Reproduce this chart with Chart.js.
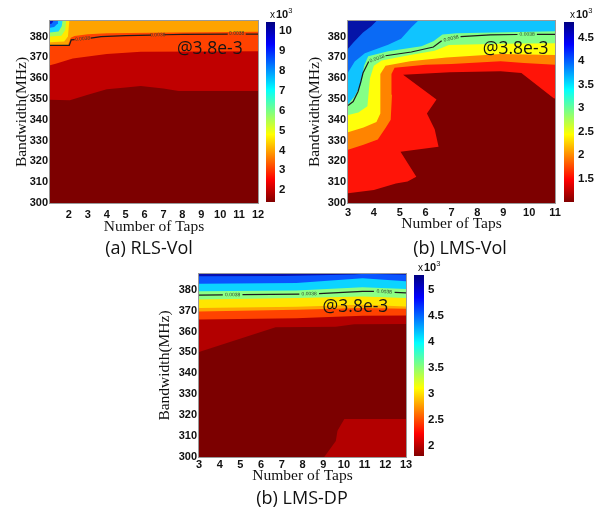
<!DOCTYPE html>
<html>
<head>
<meta charset="utf-8">
<script src="https://cdn.jsdelivr.net/npm/chart.js@4.4.1/dist/chart.umd.min.js"></script>
<style>
  html, body { margin: 0; padding: 0; background: #fff; }
  body { position: relative; width: 608px; height: 512px; overflow: hidden; }
  canvas { position: absolute; }
  .cap { position: absolute; font: 18px "Open Sans", sans-serif; color: #111; white-space: nowrap; transform: translate(-50%, -50%); }
  .exp { position: absolute; font: bold 11px "Liberation Sans", Arial, sans-serif; line-height: 11px; color: #111; white-space: nowrap; }
  .exp i { font-style: normal; font-weight: normal; font-size: 10px; margin-right: 1px; }
  .exp b { position: relative; top: -5px; font-size: 7.5px; font-weight: normal; }
</style>
</head>
<body>
<canvas id="rls" width="270" height="243" style="left:0px;top:0px"></canvas>
<canvas id="rlsBar" width="39" height="202" style="left:266px;top:11px"></canvas>
<canvas id="lmsVol" width="269" height="243" style="left:298px;top:0px"></canvas>
<canvas id="lmsVolBar" width="40" height="202" style="left:564px;top:11px"></canvas>
<canvas id="lmsDp" width="269" height="244" style="left:149px;top:253px"></canvas>
<canvas id="lmsDpBar" width="40" height="203" style="left:414px;top:264px"></canvas>

<div class="exp" style="left:270px;top:9px"><i>x</i>10<b>3</b></div>
<div class="exp" style="left:570px;top:9px"><i>x</i>10<b>3</b></div>
<div class="exp" style="left:418px;top:262px"><i>x</i>10<b>3</b></div>

<div class="cap" style="left:149px;top:247px">(a) RLS-Vol</div>
<div class="cap" style="left:460px;top:247px">(b) LMS-Vol</div>
<div class="cap" style="left:302px;top:497px">(b) LMS-DP</div>

<script>
// Bandwidth axis shared by the three maps
const Y_MIN = 300, Y_MAX = 387.5;
const bandwidthTicks = [300, 310, 320, 330, 340, 350, 360, 370, 380];
const levelText = '0.0038';
const noteText = '@3.8e-3';

// ---- (a) RLS-Vol ----
const rlsTapRange = [1, 12];
const rlsTapTicks = [2, 3, 4, 5, 6, 7, 8, 9, 10, 11, 12];
const rlsBarRange = [1.4, 10.45];
const rlsBarTicks = [2, 3, 4, 5, 6, 7, 8, 9, 10];
// lower outline of the region above each fill level, lowest level first
const rlsEdgeRed = [[1, 349.6], [2.05, 349.4], [3, 352], [4, 354.7], [5, 355.5], [5.8, 356.2], [7, 355], [7.8, 353.9], [12, 353.8]];
const rlsEdgeOrangeRed = [[1, 366.2], [1.3, 367], [2.2, 369.5], [4, 371.6], [5.8, 372.7], [12, 372.9]];
const rlsEdgeOrange = [[1, 375.8], [1.95, 375.8], [2.1, 379.5], [2.3, 380.3], [3, 381.1], [4, 381.6], [7.5, 382], [12, 382.3]];
const rlsEdgeYellow = [[1, 377.3], [1.75, 377.6], [1.95, 380], [2.02, 387.5]];
const rlsEdgeGreen = [[1, 380], [1.6, 380.4], [1.8, 383], [1.85, 387.5]];
const rlsEdgeCyan = [[1, 382], [1.45, 382.4], [1.62, 385], [1.66, 387.5]];
const rlsEdgeBlue = [[1, 384.2], [1.22, 384.6], [1.38, 386], [1.42, 387.5]];
const rlsEdgeNavy = [[1, 386], [1.1, 386.3], [1.18, 387.5]];
const rlsLevelLine = [[1, 375.8], [2.02, 375.8], [2.12, 378.4], [2.3, 378.5], null, [3.15, 379.3], [3.7, 380], [5, 380.5], [6.35, 380.7], null,
  [7.05, 380.9], [8, 381.1], [10.4, 381.2], null, [11.35, 381.2], [12, 381.2]];
const rlsNote = [9.45, 373.8];

// ---- (b) LMS-Vol ----
const volTapRange = [3, 11];
const volTapTicks = [3, 4, 5, 6, 7, 8, 9, 10, 11];
const volBarRange = [1.0, 4.83];
const volBarTicks = [1.5, 2, 2.5, 3, 3.5, 4, 4.5];
const volEdgeRed = [[3, 304.7], [4, 306.2], [4.85, 309.4], [5.3, 310.3], [5.64, 312.6], [5.03, 324.6], [6.5, 327], [6.35, 335.5], [6.05, 343],
  [6.42, 349.7], [5.13, 361.6], [6.93, 362.9], [8.9, 363.3], [9.7, 362.5], [10.95, 350.4], [11, 350.2]];
const volEdgeOrange = [[3, 325.6], [3.6, 328], [4.15, 330.5], [4.45, 336], [4.65, 340], [4.7, 352], [4.68, 362], [4.8, 365], [6, 366.5], [7, 366.8],
  [8.9, 368.1], [9.8, 367.3], [11, 366.5]];
const volEdgeYellow = [[3, 334], [3.6, 336.3], [4.1, 339], [4.25, 343], [4.25, 362], [4.45, 366], [5.4, 368.2], [6.8, 370], [8.9, 371.6], [11, 371.2]];
const volEdgeGreen = [[3, 342.3], [3.4, 343.5], [3.75, 346.5], [3.85, 360], [4.0, 366], [4.3, 368.5], [5.45, 371.3], [6.35, 373.2], [6.9, 376],
  [8.9, 376.6], [11, 376.8]];
const volEdgeCyan = [[3, 347.5], [3.25, 351.2], [3.5, 357], [3.62, 366], [3.78, 370.5], [4.55, 373], [5.84, 375.4], [6.3, 377.8], [6.65, 381],
  [7.2, 381.6], [11, 382.6]];
const volEdgeBlue = [[3, 362.8], [3.26, 368], [3.65, 372], [4.55, 376.1], [5.05, 379], [5.45, 384.5], [5.7, 387.5]];
const volEdgeNavy = [[3, 374.2], [3.2, 377], [3.58, 382], [3.9, 385], [4.1, 387.5]];
const volLevelLine = [[3, 346.9], [3.2, 348.8], [3.39, 353.6], [3.5, 358.5], [3.58, 362.5], [3.8, 368], null, [4.45, 370.8], [5.45, 372.6],
  [6.3, 375], [6.62, 378], null, [7.35, 380], [8.5, 380.8], [9.55, 381], null, [10.3, 381.1], [11, 381.1]];
const volNote = [9.48, 374];

// ---- (b) LMS-DP ----
const dpTapRange = [3, 13];
const dpTapTicks = [3, 4, 5, 6, 7, 8, 9, 10, 11, 12, 13];
const dpBarRange = [1.81, 5.28];
const dpBarTicks = [2, 2.5, 3, 3.5, 4, 4.5, 5];
const dpEdgeRed = [[3, 350.2], [6.7, 362], [9.6, 362.3], [10.5, 363.5], [13, 363.6]];
const dpPatchRed = [[9.05, 300], [9.61, 307.6], [9.69, 312.5], [10.02, 318.2], [13, 318.2], [13, 300]];
const dpEdgeOrangeRed = [[3, 365.8], [7.7, 366.4], [10.9, 367.5], [13, 367.7]];
const dpEdgeOrange = [[3, 369.6], [7.7, 370.4], [10.9, 371.3], [13, 370.9]];
const dpEdgeYellow = [[3, 371.2], [7.7, 371.9], [10.9, 372.8], [13, 372]];
const dpEdgeGreen = [[3, 375.3], [7.7, 376], [10.9, 376.7], [13, 376]];
const dpEdgeCyan = [[3, 379.3], [7.7, 379.6], [10.9, 381.2], [13, 380.3]];
const dpEdgeBlue = [[3, 382.8], [7.7, 383.2], [10.9, 385.5], [13, 384]];
const dpEdgeNavy = [[3, 386.4], [7, 386.6], [10.5, 387.3], [11, 387.6], [12, 387.4], [13, 387.1]];
const dpLevelLine = [[3, 377.4], [4.15, 377.5], null, [5.1, 377.6], [7.85, 377.9], null, [8.8, 378.1], [10.9, 379.2], [11.45, 379.2], null,
  [12.45, 378.7], [13, 378.5]];
const dpNote = [10.56, 371.5];

// fill colours, lowest level first
const rlsFill = ['#7d0000', '#c00000', '#ff4200', '#ffa300', '#ffea00', '#a2ff5c', '#19d8ff', '#0a6cff', '#0714c4'];
const volFill = ['#7d0000', '#ff1408', '#ff8400', '#ffff0a', '#84ff86', '#10c4ff', '#0a6af5', '#0514a8'];
const dpFill = ['#7c0000', '#b30000', '#ff4300', '#ffa600', '#ffe600', '#8cff84', '#0cd4ff', '#0a55ff', '#0610b0'];

// jet, reversed: low values dark red, high values dark blue
const jetStops = [[0, '#800000'], [0.125, '#ff0000'], [0.375, '#ffff00'], [0.625, '#00ffff'], [0.875, '#0000ff'], [1, '#000080']];

const tickFont = { family: '"Liberation Sans", Arial, sans-serif', size: 11, weight: 'bold' };
const barTickFont = { family: '"Liberation Sans", Arial, sans-serif', size: 11.5, weight: 'bold' };
const titleFont = { family: '"Liberation Serif", "Times New Roman", serif', size: 15.5 };
const INK = '#111';

const toPoints = arr => arr.map((p, i) => p ? { x: p[0], y: p[1] } : { x: (arr[i - 1][0] + arr[i + 1][0]) / 2, y: null });

// plot background = lowest level, plus the thin axes box
const frame = {
  id: 'frame',
  beforeDatasetsDraw(chart, args, opts) {
    const { ctx, chartArea: a } = chart;
    ctx.save();
    ctx.fillStyle = opts.base;
    ctx.fillRect(a.left, a.top, a.right - a.left, a.bottom - a.top);
    ctx.restore();
  },
  afterDatasetsDraw(chart) {
    const { ctx, chartArea: a } = chart;
    ctx.save();
    ctx.strokeStyle = '#9a9a9a';
    ctx.lineWidth = 1;
    ctx.strokeRect(Math.round(a.left) - 0.5, Math.round(a.top) - 0.5, Math.round(a.right - a.left) + 1, Math.round(a.bottom - a.top) + 1);
    ctx.restore();
  }
};

// "0.0038" written in each break of the contour line, turned along it
const levelLabels = {
  id: 'levelLabels',
  afterDatasetsDraw(chart) {
    const { ctx } = chart;
    chart.data.datasets.forEach((ds, i) => {
      if (!ds.levelText) return;
      const pts = chart.getDatasetMeta(i).data;
      ctx.save();
      ctx.font = '5px "Liberation Sans", Arial, sans-serif';
      ctx.fillStyle = '#30402f';
      ctx.textAlign = 'center';
      ctx.textBaseline = 'middle';
      ds.data.forEach((d, j) => {
        if (d.y !== null) return;
        const a = pts[j - 1], b = pts[j + 1];
        ctx.save();
        ctx.translate((a.x + b.x) / 2, (a.y + b.y) / 2);
        ctx.rotate(Math.atan2(b.y - a.y, b.x - a.x));
        ctx.fillText(ds.levelText, 0, 0);
        ctx.restore();
      });
      ctx.restore();
    });
  }
};

const note = {
  id: 'note',
  afterDatasetsDraw(chart, args, opts) {
    const { ctx, scales } = chart;
    ctx.save();
    ctx.font = '17.5px "Open Sans", sans-serif';
    ctx.fillStyle = '#151515';
    ctx.textAlign = 'center';
    ctx.textBaseline = 'middle';
    ctx.fillText(opts.text, scales.x.getPixelForValue(opts.at[0]), scales.y.getPixelForValue(opts.at[1]));
    ctx.restore();
  }
};

function contourMap(id, cfg) {
  const [xMin, xMax] = cfg.taps;
  const datasets = cfg.edges.map((edge, k) => ({
    data: toPoints(edge).concat([{ x: xMax, y: Y_MAX }, { x: xMin, y: Y_MAX }]),
    backgroundColor: cfg.fill[k + 1],
    borderColor: 'rgba(0,0,0,0)',
    borderWidth: 0,
    pointRadius: 0,
    fill: 'shape',
    order: 100 - k
  }));
  (cfg.patches || []).forEach(p => datasets.push({
    data: toPoints(p.poly), backgroundColor: cfg.fill[p.level], borderColor: 'rgba(0,0,0,0)',
    borderWidth: 0, pointRadius: 0, fill: 'shape', order: 100 - p.level + 1
  }));
  datasets.push({
    data: toPoints(cfg.line), levelText, borderColor: '#1c1c1c', borderWidth: 1.2,
    pointRadius: 0, fill: false, spanGaps: false, order: 0
  });

  return new Chart(document.getElementById(id), {
    type: 'line',
    data: { datasets },
    options: {
      responsive: false, animation: false, events: [],
      layout: { padding: { top: 21, right: 12, left: 0, bottom: 0 } },
      plugins: {
        legend: { display: false }, tooltip: { enabled: false },
        frame: { base: cfg.fill[0] },
        note: { text: noteText, at: cfg.note }
      },
      scales: {
        x: {
          type: 'linear', min: xMin, max: xMax,
          afterBuildTicks: s => { s.ticks = cfg.xTicks.map(v => ({ value: v })); },
          afterFit: s => { s.height = 40; },
          grid: { display: false, drawTicks: false }, border: { display: false },
          ticks: { font: tickFont, color: INK, padding: cfg.xTickPad, maxRotation: 0, autoSkip: false },
          title: { display: true, text: 'Number of Taps', font: titleFont, color: INK, padding: { top: 0, bottom: cfg.xTitlePad } }
        },
        y: {
          type: 'linear', min: Y_MIN, max: Y_MAX,
          afterBuildTicks: s => { s.ticks = bandwidthTicks.map(v => ({ value: v })); },
          afterFit: s => { s.width = 50; },
          grid: { display: false, drawTicks: false }, border: { display: false },
          ticks: { font: tickFont, color: INK, padding: 2 },
          title: { display: true, text: 'Bandwidth(MHz)', font: titleFont, color: INK, padding: { top: cfg.yTitlePad, bottom: 0 } }
        }
      }
    },
    plugins: [frame, levelLabels, note]
  });
}

function jetGradient(chart) {
  const a = chart.chartArea;
  if (!a) return '#800000';
  const g = chart.ctx.createLinearGradient(0, a.bottom, 0, a.top);
  jetStops.forEach(([t, c]) => g.addColorStop(t, c));
  return g;
}

function colorBar(id, range, ticks) {
  return new Chart(document.getElementById(id), {
    type: 'bar',
    data: {
      labels: [''],
      datasets: [{
        data: [range], backgroundColor: ctx => jetGradient(ctx.chart),
        borderWidth: 0, barPercentage: 1, categoryPercentage: 1
      }]
    },
    options: {
      responsive: false, animation: false, events: [],
      layout: { padding: { top: 10, bottom: 10, left: 0, right: 0 } },
      plugins: { legend: { display: false }, tooltip: { enabled: false } },
      scales: {
        x: { display: false },
        y: {
          position: 'right', min: range[0], max: range[1],
          afterBuildTicks: s => { s.ticks = ticks.map(v => ({ value: v })); },
          afterFit: s => { s.width = 30; },
          grid: { display: false, drawTicks: false }, border: { display: false },
          ticks: { font: barTickFont, color: INK, padding: 4, callback: v => String(v) }
        }
      }
    }
  });
}

contourMap('rls', {
  taps: rlsTapRange, xTicks: rlsTapTicks, fill: rlsFill, note: rlsNote, line: rlsLevelLine,
  edges: [rlsEdgeRed, rlsEdgeOrangeRed, rlsEdgeOrange, rlsEdgeYellow, rlsEdgeGreen, rlsEdgeCyan, rlsEdgeBlue, rlsEdgeNavy],
  xTickPad: 5, xTitlePad: 6.7, yTitlePad: 12.4
});
contourMap('lmsVol', {
  taps: volTapRange, xTicks: volTapTicks, fill: volFill, note: volNote, line: volLevelLine,
  edges: [volEdgeRed, volEdgeOrange, volEdgeYellow, volEdgeGreen, volEdgeCyan, volEdgeBlue, volEdgeNavy],
  xTickPad: 3, xTitlePad: 9.5, yTitlePad: 8
});
contourMap('lmsDp', {
  taps: dpTapRange, xTicks: dpTapTicks, fill: dpFill, note: dpNote, line: dpLevelLine,
  edges: [dpEdgeRed, dpEdgeOrangeRed, dpEdgeOrange, dpEdgeYellow, dpEdgeGreen, dpEdgeCyan, dpEdgeBlue, dpEdgeNavy],
  patches: [{ poly: dpPatchRed, level: 1 }],
  xTickPad: 1, xTitlePad: 11.7, yTitlePad: 7
});

colorBar('rlsBar', rlsBarRange, rlsBarTicks);
colorBar('lmsVolBar', volBarRange, volBarTicks);
colorBar('lmsDpBar', dpBarRange, dpBarTicks);
</script>
</body>
</html>
